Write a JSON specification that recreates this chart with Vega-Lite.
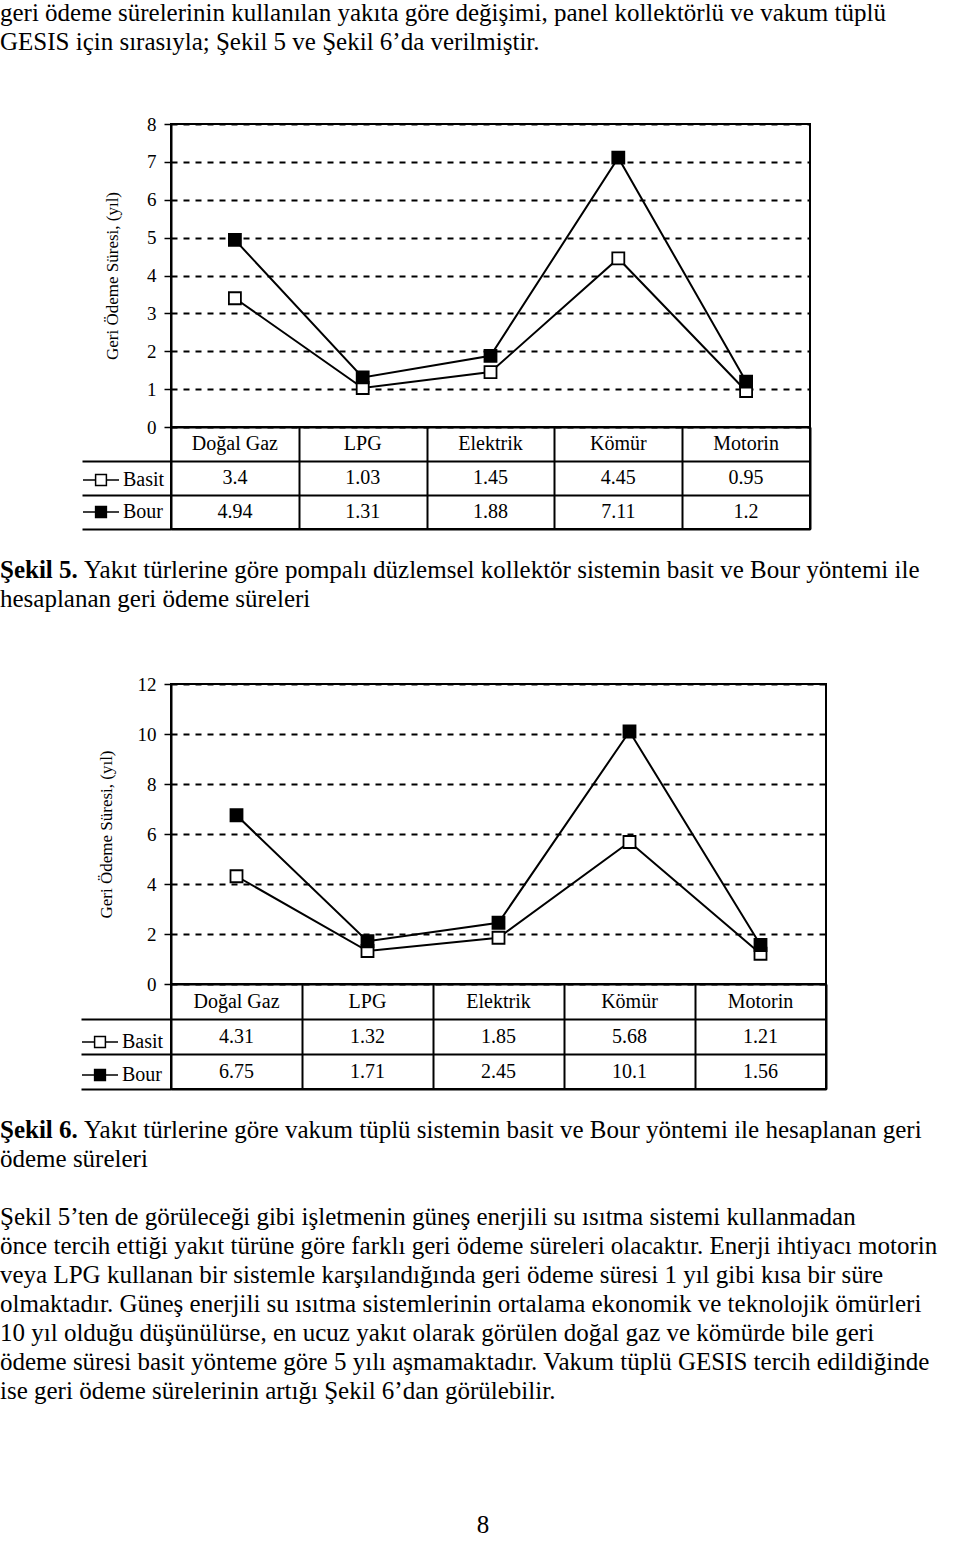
{
  "$schema": "https://vega.github.io/schema/vega-lite/v6.json",
  "padding": 0,
  "spacing": 0,
  "bounds": "flush",
  "background": "white",
  "resolve": {"scale": {"fill": "independent"}, "legend": {"fill": "independent"}},
  "config": {
    "view": {"stroke": null},
    "font": "Liberation Serif",
    "text": {"font": "Liberation Serif", "fontSize": 25, "color": "black", "align": "left", "baseline": "middle"}
  },
  "datasets": {
    "sekil5": [
      {"yakit": "Doğal Gaz", "yontem": "Basit", "deger": 3.4},
      {"yakit": "LPG", "yontem": "Basit", "deger": 1.03},
      {"yakit": "Elektrik", "yontem": "Basit", "deger": 1.45},
      {"yakit": "Kömür", "yontem": "Basit", "deger": 4.45},
      {"yakit": "Motorin", "yontem": "Basit", "deger": 0.95},
      {"yakit": "Doğal Gaz", "yontem": "Bour", "deger": 4.94},
      {"yakit": "LPG", "yontem": "Bour", "deger": 1.31},
      {"yakit": "Elektrik", "yontem": "Bour", "deger": 1.88},
      {"yakit": "Kömür", "yontem": "Bour", "deger": 7.11},
      {"yakit": "Motorin", "yontem": "Bour", "deger": 1.2}
    ],
    "sekil6": [
      {"yakit": "Doğal Gaz", "yontem": "Basit", "deger": 4.31},
      {"yakit": "LPG", "yontem": "Basit", "deger": 1.32},
      {"yakit": "Elektrik", "yontem": "Basit", "deger": 1.85},
      {"yakit": "Kömür", "yontem": "Basit", "deger": 5.68},
      {"yakit": "Motorin", "yontem": "Basit", "deger": 1.21},
      {"yakit": "Doğal Gaz", "yontem": "Bour", "deger": 6.75},
      {"yakit": "LPG", "yontem": "Bour", "deger": 1.71},
      {"yakit": "Elektrik", "yontem": "Bour", "deger": 2.45},
      {"yakit": "Kömür", "yontem": "Bour", "deger": 10.1},
      {"yakit": "Motorin", "yontem": "Bour", "deger": 1.56}
    ]
  },
  "vconcat": [
    {
      "width": 789, "height": 124,
      "data": {"values": [
        {"satir": 0, "metin": "geri ödeme sürelerinin kullanılan yakıta göre değişimi, panel kollektörlü ve vakum tüplü"},
        {"satir": 1, "metin": "GESIS için sırasıyla; Şekil 5 ve Şekil 6’da verilmiştir."}
      ]},
      "mark": {"type": "text"},
      "encoding": {
        "x": {"datum": 0, "type": "quantitative", "scale": {"domain": [0, 1], "range": [-171, 789]}, "axis": null},
        "y": {"field": "satir", "type": "quantitative", "scale": {"domain": [-0.4483, 3.8276], "range": [0, 124]}, "axis": null},
        "text": {"field": "metin"}
      }
    },
    {
      "width": 639, "height": 303,
      "view": {"stroke": "black", "strokeWidth": 2},
      "data": {"name": "sekil5"},
      "encoding": {
        "x": {"field": "yakit", "type": "nominal", "sort": ["Doğal Gaz", "LPG", "Elektrik", "Kömür", "Motorin"], "scale": {"type": "point", "padding": 0.5}, "axis": null},
        "y": {"field": "deger", "type": "quantitative", "scale": {"domain": [0, 8], "nice": false},
          "axis": {"values": [0, 1, 2, 3, 4, 5, 6, 7, 8], "grid": true, "gridColor": "black", "gridDash": [6, 6], "gridWidth": 2, "gridOpacity": 1,
            "domainColor": "black", "domainWidth": 2, "tickColor": "black", "tickWidth": 1.5, "tickSize": 7,
            "labelFont": "Liberation Serif", "labelFontSize": 19, "labelColor": "black", "labelPadding": 8,
            "title": "Geri Ödeme Süresi, (yıl)", "titleFont": "Liberation Serif", "titleFontSize": 17, "titleFontWeight": "normal", "titleColor": "black", "titlePadding": 25}}
      },
      "layer": [
        {"mark": {"type": "line", "color": "black", "strokeWidth": 2}, "encoding": {"detail": {"field": "yontem"}}},
        {"mark": {"type": "point", "shape": "square", "size": 144, "filled": true, "stroke": "black", "strokeWidth": 1.8, "opacity": 1},
          "encoding": {"fill": {"field": "yontem", "type": "nominal", "scale": {"domain": ["Basit", "Bour"], "range": ["white", "black"]},
            "legend": {"orient": "none", "legendX": -89, "legendY": 337, "title": null, "padding": 0,
              "symbolType": "M-1,0H-0.3M0.3,0H1M-0.3,-0.3H0.3V0.3H-0.3Z", "symbolSize": 1296,
              "symbolStrokeColor": "black", "symbolStrokeWidth": 1.5,
              "labelFont": "Liberation Serif", "labelFontSize": 20, "labelColor": "black", "labelOffset": 3, "rowPadding": 3,
              "encode": {"symbols": {"update": {"stroke": {"value": "black"}, "strokeWidth": {"value": 1.5}}}}}}}}
      ]
    },
    {
      "width": 639, "height": 102,
      "view": {"stroke": "black", "strokeWidth": 2},
      "data": {"name": "sekil5"},
      "encoding": {
        "x": {"field": "yakit", "type": "nominal", "sort": ["Doğal Gaz", "LPG", "Elektrik", "Kömür", "Motorin"], "scale": {"type": "band", "paddingInner": 0, "paddingOuter": 0},
          "axis": {"grid": true, "tickBand": "extent", "gridColor": "black", "gridWidth": 2, "gridOpacity": 1, "labels": false, "ticks": false, "domain": false, "title": null}}
      },
      "layer": [
        {"mark": {"type": "text", "align": "center", "fontSize": 20},
          "encoding": {
            "y": {"field": "yontem", "type": "nominal", "scale": {"domain": ["Başlık", "Basit", "Bour"], "paddingInner": 0, "paddingOuter": 0},
              "axis": {"grid": true, "tickBand": "extent", "gridColor": "black", "gridWidth": 2, "gridOpacity": 1, "labels": false, "ticks": true, "tickSize": 89, "tickColor": "black", "tickWidth": 2,
                "tickOpacity": {"condition": {"test": "datum.extra", "value": 0}, "value": 1}, "domain": false, "title": null}},
            "text": {"field": "deger", "type": "nominal"}
          }},
        {"transform": [{"filter": "datum.yontem === 'Basit'"}],
          "mark": {"type": "text", "align": "center", "fontSize": 20},
          "encoding": {"y": {"datum": "Başlık", "type": "nominal"}, "text": {"field": "yakit"}}}
      ]
    },
    {
      "width": 789, "height": 155,
      "encoding": {
        "x": {"datum": 0, "type": "quantitative", "scale": {"domain": [0, 1], "range": [-171, 789]}, "axis": null},
        "y": {"field": "satir", "type": "quantitative", "scale": {"domain": [-1.4138, 3.931], "range": [0, 155]}, "axis": null},
        "text": {"field": "metin"}
      },
      "layer": [
        {"data": {"values": [{"satir": 0, "metin": "Şekil 5."}]}, "mark": {"type": "text", "fontWeight": "bold"}},
        {"data": {"values": [{"satir": 0, "metin": "Yakıt türlerine göre pompalı düzlemsel kollektör sistemin basit ve Bour yöntemi ile"}]}, "mark": {"type": "text", "dx": 84}},
        {"data": {"values": [{"satir": 1, "metin": "hesaplanan geri ödeme süreleri"}]}, "mark": {"type": "text"}}
      ]
    },
    {
      "width": 655, "height": 300,
      "view": {"stroke": "black", "strokeWidth": 2},
      "data": {"name": "sekil6"},
      "encoding": {
        "x": {"field": "yakit", "type": "nominal", "sort": ["Doğal Gaz", "LPG", "Elektrik", "Kömür", "Motorin"], "scale": {"type": "point", "padding": 0.5}, "axis": null},
        "y": {"field": "deger", "type": "quantitative", "scale": {"domain": [0, 12], "nice": false},
          "axis": {"values": [0, 2, 4, 6, 8, 10, 12], "grid": true, "gridColor": "black", "gridDash": [6, 6], "gridWidth": 2, "gridOpacity": 1,
            "domainColor": "black", "domainWidth": 2, "tickColor": "black", "tickWidth": 1.5, "tickSize": 7,
            "labelFont": "Liberation Serif", "labelFontSize": 19, "labelColor": "black", "labelPadding": 8,
            "title": "Geri Ödeme Süresi, (yıl)", "titleFont": "Liberation Serif", "titleFontSize": 17, "titleFontWeight": "normal", "titleColor": "black", "titlePadding": 22}}
      },
      "layer": [
        {"mark": {"type": "line", "color": "black", "strokeWidth": 2}, "encoding": {"detail": {"field": "yontem"}}},
        {"mark": {"type": "point", "shape": "square", "size": 144, "filled": true, "stroke": "black", "strokeWidth": 1.8, "opacity": 1},
          "encoding": {"fill": {"field": "yontem", "type": "nominal", "scale": {"domain": ["Basit", "Bour"], "range": ["white", "black"]},
            "legend": {"orient": "none", "legendX": -90, "legendY": 339, "title": null, "padding": 0,
              "symbolType": "M-1,0H-0.3M0.3,0H1M-0.3,-0.3H0.3V0.3H-0.3Z", "symbolSize": 1296,
              "symbolStrokeColor": "black", "symbolStrokeWidth": 1.5,
              "labelFont": "Liberation Serif", "labelFontSize": 20, "labelColor": "black", "labelOffset": 3, "rowPadding": 4,
              "encode": {"symbols": {"update": {"stroke": {"value": "black"}, "strokeWidth": {"value": 1.5}}}}}}}}
      ]
    },
    {
      "width": 655, "height": 105,
      "view": {"stroke": "black", "strokeWidth": 2},
      "data": {"name": "sekil6"},
      "encoding": {
        "x": {"field": "yakit", "type": "nominal", "sort": ["Doğal Gaz", "LPG", "Elektrik", "Kömür", "Motorin"], "scale": {"type": "band", "paddingInner": 0, "paddingOuter": 0},
          "axis": {"grid": true, "tickBand": "extent", "gridColor": "black", "gridWidth": 2, "gridOpacity": 1, "labels": false, "ticks": false, "domain": false, "title": null}}
      },
      "layer": [
        {"mark": {"type": "text", "align": "center", "fontSize": 20},
          "encoding": {
            "y": {"field": "yontem", "type": "nominal", "scale": {"domain": ["Başlık", "Basit", "Bour"], "paddingInner": 0, "paddingOuter": 0},
              "axis": {"grid": true, "tickBand": "extent", "gridColor": "black", "gridWidth": 2, "gridOpacity": 1, "labels": false, "ticks": true, "tickSize": 90, "tickColor": "black", "tickWidth": 2,
                "tickOpacity": {"condition": {"test": "datum.extra", "value": 0}, "value": 1}, "domain": false, "title": null}},
            "text": {"field": "deger", "type": "nominal"}
          }},
        {"transform": [{"filter": "datum.yontem === 'Basit'"}],
          "mark": {"type": "text", "align": "center", "fontSize": 20},
          "encoding": {"y": {"datum": "Başlık", "type": "nominal"}, "text": {"field": "yakit"}}}
      ]
    },
    {
      "width": 789, "height": 391,
      "encoding": {
        "x": {"datum": 0, "type": "quantitative", "scale": {"domain": [0, 1], "range": [-171, 789]}, "axis": null},
        "y": {"field": "satir", "type": "quantitative", "scale": {"domain": [-1.4138, 12.069], "range": [0, 391]}, "axis": null},
        "text": {"field": "metin"}
      },
      "layer": [
        {"data": {"values": [{"satir": 0, "metin": "Şekil 6."}]}, "mark": {"type": "text", "fontWeight": "bold"}},
        {"data": {"values": [{"satir": 0, "metin": "Yakıt türlerine göre vakum tüplü sistemin basit ve Bour  yöntemi ile hesaplanan geri"}]}, "mark": {"type": "text", "dx": 84}},
        {"data": {"values": [
          {"satir": 1, "metin": "ödeme süreleri"},
          {"satir": 3, "metin": "\u00a0\u00a0\u00a0\u00a0\u00a0\u00a0\u00a0\u00a0\u00a0\u00a0\u00a0\u00a0\u00a0\u00a0\u00a0\u00a0\u00a0\u00a0\u00a0\u00a0Şekil 5’ten de görüleceği gibi işletmenin güneş enerjili su ısıtma sistemi kullanmadan"},
          {"satir": 4, "metin": "önce tercih ettiği yakıt türüne göre farklı geri ödeme süreleri olacaktır. Enerji ihtiyacı motorin"},
          {"satir": 5, "metin": "veya LPG kullanan bir sistemle karşılandığında geri ödeme süresi 1 yıl gibi kısa bir süre"},
          {"satir": 6, "metin": "olmaktadır. Güneş enerjili su ısıtma sistemlerinin ortalama ekonomik ve teknolojik ömürleri"},
          {"satir": 7, "metin": "10 yıl olduğu düşünülürse, en ucuz yakıt olarak görülen doğal gaz ve kömürde bile geri"},
          {"satir": 8, "metin": "ödeme süresi  basit yönteme göre 5 yılı aşmamaktadır. Vakum tüplü GESIS tercih edildiğinde"},
          {"satir": 9, "metin": "ise geri ödeme sürelerinin artığı Şekil 6’dan görülebilir."}
        ]}, "mark": {"type": "text"}}
      ]
    },
    {
      "width": 789, "height": 63,
      "data": {"values": [{"satir": 0, "metin": "8"}]},
      "mark": {"type": "text", "align": "center"},
      "encoding": {
        "x": {"datum": 0.503, "type": "quantitative", "scale": {"domain": [0, 1], "range": [-171, 789]}, "axis": null},
        "y": {"field": "satir", "type": "quantitative", "scale": {"domain": [-1.5517, 0.6207], "range": [0, 63]}, "axis": null},
        "text": {"field": "metin"}
      }
    }
  ]
}
